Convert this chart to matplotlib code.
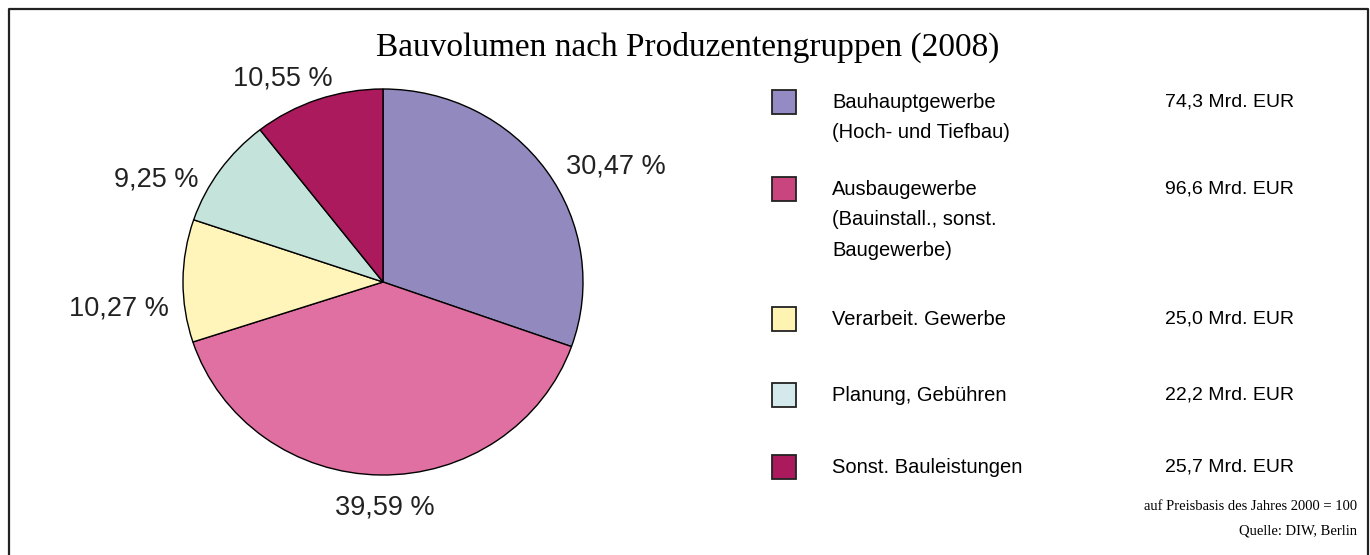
import numpy as np
import matplotlib.pyplot as plt
from matplotlib.patches import Rectangle

# data
shares = [30.47, 39.59, 10.27, 9.25, 10.55]
share_labels = ["30,47 %", "39,59 %", "10,27 %", "9,25 %", "10,55 %"]
groups = [
    "Bauhauptgewerbe\n(Hoch- und Tiefbau)",
    "Ausbaugewerbe\n(Bauinstall., sonst.\nBaugewerbe)",
    "Verarbeit. Gewerbe",
    "Planung, Gebühren",
    "Sonst. Bauleistungen",
]
volumes = ["74,3 Mrd. EUR", "96,6 Mrd. EUR", "25,0 Mrd. EUR", "22,2 Mrd. EUR", "25,7 Mrd. EUR"]

pie_colors = ["#9289BE", "#E070A1", "#FFF5BA", "#C4E3DA", "#AA1A5C"]
legend_colors = ["#958BC4", "#C9457D", "#FFF3B4", "#D4E9EC", "#AA1A5C"]

W, H = 1370, 555
fig = plt.figure(figsize=(W / 100, H / 100), dpi=100)


def fx(x):
    return x / W


def fy(y):
    return 1 - y / H


# outer frame (bottom edge runs off the picture)
fig.add_artist(plt.Line2D([fx(9), fx(9), fx(1368), fx(1368)], [0, fy(9), fy(9), 0],
                          color="#222222", lw=1.6, transform=fig.transFigure))

fig.text(fx(688), fy(47), "Bauvolumen nach Produzentengruppen (2008)",
         family="Liberation Serif", fontsize=24, ha="center", va="center")

# pie, slightly wider than tall like the original
ax = fig.add_axes([fx(183), fy(475), fx(400), 386 / H])
wedges, _ = ax.pie(shares, colors=pie_colors, startangle=90, counterclock=False,
                   wedgeprops=dict(edgecolor="black", linewidth=1.0))
ax.set_aspect("auto")
ax.set_xlim(-1, 1)
ax.set_ylim(-1, 1)
ax.axis("off")

# percentage labels around the pie
dists = [1.12, 1.17, 1.12, 1.08, 1.08]
h_al = ["left", "center", "right", "right", "right"]
v_al = ["top", "center", "top", "top", "bottom"]
nudge = [(0, 4), (5, 0), (10, -15), (-9, -5), (20, -7)]  # pixels
for w, lab, d, ha, va, nd in zip(wedges, share_labels, dists, h_al, v_al, nudge):
    t = np.radians((w.theta1 + w.theta2) / 2)
    ax.annotate(lab, (d * np.cos(t), d * np.sin(t)), xytext=nd, textcoords="offset pixels",
                ha=ha, va=va, family="Liberation Sans", fontsize=19.5, color="#222222",
                annotation_clip=False)

# legend drawn by hand
row_centers = [102, 189, 319, 395, 467]
for yc, col, name, vol in zip(row_centers, legend_colors, groups, volumes):
    fig.add_artist(Rectangle((fx(772), fy(yc + 12)), fx(24), 24 / H, facecolor=col,
                             edgecolor="#222222", lw=1.3, transform=fig.transFigure))
    fig.text(fx(832), fy(yc - 9), name, family="Liberation Sans", fontsize=14.5,
             ha="left", va="top", linespacing=1.75)
    fig.text(fx(1165), fy(yc - 9), vol, family="Liberation Sans", fontsize=14,
             ha="left", va="top")

fig.text(fx(1357), fy(507), "auf Preisbasis des Jahres 2000 = 100", family="Liberation Serif",
         fontsize=10.5, ha="right", va="center")
fig.text(fx(1357), fy(531), "Quelle: DIW, Berlin", family="Liberation Serif",
         fontsize=10.5, ha="right", va="center")

fig.savefig("out.png", dpi=100)
